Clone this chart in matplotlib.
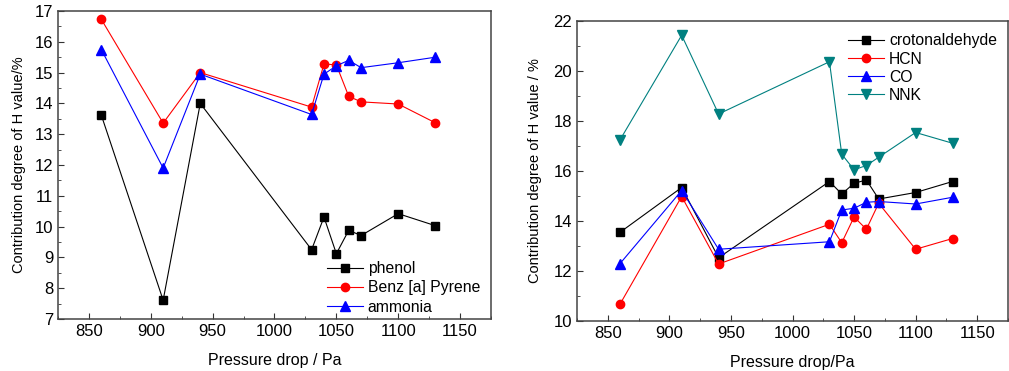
import matplotlib
matplotlib.use("Agg")
import matplotlib.pyplot as plt
from matplotlib.ticker import MultipleLocator

plt.rcParams['font.family'] = ['Liberation Sans', 'DejaVu Sans']

# ---- data ----
pressure = [860, 910, 940, 1030, 1040, 1050, 1060, 1070, 1100, 1130]

phenol = [13.62, 7.61, 14.0, 9.25, 10.31, 9.12, 9.88, 9.71, 10.42, 10.03]
benzapyrene = [16.73, 13.36, 15.0, 13.88, 15.28, 15.25, 14.23, 14.05, 13.98, 13.37]
ammonia = [15.75, 11.9, 14.95, 13.64, 14.95, 15.22, 15.4, 15.16, 15.32, 15.5]

crotonaldehyde = [13.55, 15.34, 12.53, 15.58, 15.08, 15.51, 15.64, 14.88, 15.14, 15.58]
hcn = [10.68, 14.98, 12.28, 13.87, 13.13, 14.16, 13.67, 14.71, 12.87, 13.30]
co = [12.3, 15.22, 12.87, 13.17, 14.44, 14.51, 14.75, 14.78, 14.68, 14.95]
nnk = [17.25, 21.43, 18.28, 20.37, 16.67, 16.05, 16.22, 16.55, 17.54, 17.11]

W, H = 1009, 371
fig = plt.figure(figsize=(W / 100, H / 100), dpi=100)
ax1 = fig.add_axes([58 / W, (H - 319) / H, (491 - 58) / W, (319 - 11) / H])
ax2 = fig.add_axes([577 / W, (H - 321) / H, (1008 - 577) / W, (321 - 21) / H])

lw = 0.8
ax1.plot(pressure, phenol, color="black", lw=lw, marker="s", ms=5.5, label="phenol")
ax1.plot(pressure, benzapyrene, color="red", lw=lw, marker="o", ms=6, label="Benz [a] Pyrene")
ax1.plot(pressure, ammonia, color="blue", lw=lw, marker="^", ms=6.5, label="ammonia")

ax2.plot(pressure, crotonaldehyde, color="black", lw=lw, marker="s", ms=5.5, label="crotonaldehyde")
ax2.plot(pressure, hcn, color="red", lw=lw, marker="o", ms=6, label="HCN")
ax2.plot(pressure, co, color="blue", lw=lw, marker="^", ms=6.5, label="CO")
ax2.plot(pressure, nnk, color="#008080", lw=lw, marker="v", ms=6.5, label="NNK")

ax1.set_ylim(7, 17)
ax1.yaxis.set_major_locator(MultipleLocator(1))
ax1.yaxis.set_minor_locator(MultipleLocator(0.5))
ax1.set_xlabel("Pressure drop / Pa", fontsize=11.5, labelpad=10)
ax1.set_ylabel("Contribution degree of H value/%", fontsize=10.5, labelpad=6)

ax2.set_ylim(10, 22)
ax2.yaxis.set_major_locator(MultipleLocator(2))
ax2.yaxis.set_minor_locator(MultipleLocator(1))
ax2.set_xlabel("Pressure drop/Pa", fontsize=11.5, labelpad=10)
ax2.set_ylabel("Contribution degree of H value / %", fontsize=10.5, labelpad=8)

for ax in (ax1, ax2):
    ax.set_xlim(825, 1175)
    ax.xaxis.set_major_locator(MultipleLocator(50))
    ax.xaxis.set_minor_locator(MultipleLocator(25))
    ax.tick_params(which="both", direction="in", labelsize=12, color="#333333")
    ax.tick_params(which="major", length=4)
    ax.tick_params(which="minor", length=2.5)
    for s in ax.spines.values():
        s.set_linewidth(1.1)
        s.set_color("#444444")

ax1.legend(loc="lower right", frameon=False, fontsize=11.3, handlelength=2.3,
           handletextpad=0.3, labelspacing=0.28, borderaxespad=0.3,
           bbox_to_anchor=(1.0, -0.022))
ax2.legend(loc="upper right", frameon=False, fontsize=11.3, handlelength=2.3,
           handletextpad=0.3, labelspacing=0.2, borderaxespad=0.3,
           bbox_to_anchor=(1.0, 0.995))

fig.savefig("out.png", dpi=100)
